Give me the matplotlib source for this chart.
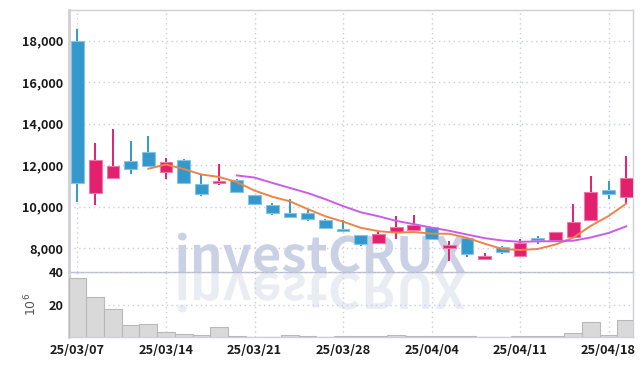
import numpy as np
import matplotlib
matplotlib.use("Agg")
import matplotlib.pyplot as plt
from matplotlib.textpath import TextPath
from matplotlib.patches import PathPatch
from matplotlib.font_manager import FontProperties
from matplotlib.transforms import Affine2D

# -----------------------------
# Data (price in KRW, volume in millions)
# -----------------------------
opens = [18000, 10640, 11390, 12190, 12630, 11680, 12240, 11090, 11120, 11280,
         10560, 10070, 9700, 9670, 9350, 8920, 8640, 8230, 8790, 8880,
         9030, 8020, 8470, 7460, 8030, 7610, 8480, 8390, 8550, 9350,
         10800, 10440]
highs = [18560, 13050, 13720, 13170, 13400, 12350, 12290, 11570, 12030, 11310,
         10560, 10180, 10380, 9830, 9380, 9350, 8640, 8820, 9560, 9590,
         9030, 8320, 8470, 7740, 8080, 8430, 8580, 8790, 10110, 11470,
         11240, 12430]
lows = [10230, 10060, 11340, 11570, 11970, 11310, 11150, 10520, 11040, 10670,
        10110, 9590, 9510, 9300, 8900, 8830, 8100, 8230, 8430, 8880,
        8390, 7370, 7580, 7460, 7710, 7610, 8180, 8340, 8550, 9350,
        10380, 10160]
closes = [11120, 12240, 11950, 11820, 11970, 12150, 11150, 10620, 11240, 10720,
          10110, 9670, 9510, 9380, 8980, 8830, 8180, 8690, 9030, 9120,
          8450, 8150, 7700, 7630, 7820, 8230, 8390, 8770, 9270, 10700,
          10590, 11360]

# moving averages (start at candle 4 and candle 9)
ma5 = [11820, 12026, 11808, 11542, 11426, 11176, 10768, 10472, 10250, 9878,
       9530, 9274, 8976, 8812, 8742, 8770, 8694, 8688, 8490, 8210,
       7950, 7906, 7954, 8168, 8496, 9072, 9544, 10138]
ma10 = [11498, 11397, 11140, 10896, 10652, 10353, 10021, 9724, 9531, 9310,
        9150, 8984, 8832, 8651, 8476, 8360, 8300, 8321, 8329, 8353,
        8511, 8725, 9046]

volume = [36.1, 24.5, 17.1, 7.3, 8.1, 3.2, 2.0, 1.2, 6.1, 0.4,
          0.3, 0.3, 1.0, 0.4, 0.3, 0.4, 0.5, 0.4, 1.2, 0.5,
          0.5, 0.7, 0.6, 0.3, 0.3, 0.5, 0.4, 0.7, 2.4, 9.2,
          1.2, 10.4]

date_labels = ["25/03/07", "25/03/14", "25/03/21", "25/03/28",
               "25/04/04", "25/04/11", "25/04/18"]
price_ticks = [8000, 10000, 12000, 14000, 16000, 18000]
volume_ticks = [20, 40]

UP = "#e3206e"
UP_EDGE = "#f07aa6"
DOWN = "#3399cc"
DOWN_EDGE = "#88c4e2"
GRID = "#c9cde0"
MARK = "#c8cfe4"

plt.rcParams["font.family"] = ["Noto Sans CJK JP", "DejaVu Sans"]

W, H = 643, 366
fig = plt.figure(figsize=(W / 100, H / 100), dpi=100)
ax = fig.add_axes([69 / W, 1 - 272 / H, 564 / W, 262 / H])
axv = fig.add_axes([69 / W, 1 - 337 / H, 564 / W, 65 / H], sharex=ax)
for a in (ax, axv):
    a.set_facecolor("none")


def add_watermark(text, x0, base, width, height, flip, alpha):
    tp = TextPath((0, 0), text, size=1,
                  prop=FontProperties(family="Noto Sans CJK JP", weight="bold"))
    ext = tp.get_extents()
    sx = width / ext.width
    sy = height / ext.height
    if flip:
        sy = -sy
    tr = (Affine2D().translate(-ext.x0, 0).scale(sx, sy)
          .translate(x0, H - base).scale(1 / W, 1 / H) + fig.transFigure)
    patch = PathPatch(tp, transform=tr, facecolor=MARK,
                      edgecolor="none", alpha=alpha, zorder=-5)
    fig.add_artist(patch)


add_watermark("investCRUX", 178, 272, 287, 40, False, 0.95)
add_watermark("investCRUX", 178, 273, 287, 40, True, 0.38)

# -----------------------------
# Candles
# -----------------------------
idx = np.arange(len(closes))
o = np.array(opens)
c = np.array(closes)
up = c >= o
colors = np.where(up, UP, DOWN)
edges = np.where(up, UP_EDGE, DOWN_EDGE)

ax.vlines(idx, lows, highs, colors=colors, linewidth=1.4, zorder=3)
ax.bar(idx, np.abs(c - o), bottom=np.minimum(o, c), width=0.72,
       color=colors, edgecolor=edges, linewidth=0.8, zorder=4)

ax.plot(idx[4:], ma5, color="#ee8447", linewidth=1.4, zorder=5)
ax.plot(idx[9:], ma10, color="#cc5ce8", linewidth=1.4, zorder=5)

ax.set_xlim(-0.48, 31.38)
ax.set_ylim(6845, 19470)
ax.set_yticks(price_ticks)
ax.set_yticklabels([f"{v:,}" for v in price_ticks])

# -----------------------------
# Volume
# -----------------------------
axv.bar(idx, volume, width=1.0, color="#d9d9d9",
        edgecolor="#b8b8b8", linewidth=0.8, zorder=3)
axv.set_ylim(0, 40)
axv.set_yticks(volume_ticks)
axv.set_xticks(range(0, 31, 5))
axv.set_xticklabels(date_labels)
axv.set_ylabel(r"$10^6$", fontsize=9, color="#555555", labelpad=7,
               family="DejaVu Sans")
plt.setp(ax.get_xticklabels(), visible=False)

for a in (ax, axv):
    a.grid(True, color=GRID, linestyle=(0, (1, 2.5)), linewidth=1.0, zorder=0)
    a.set_axisbelow(True)
    a.tick_params(length=0, labelsize=9.2, labelcolor="#1a1a1a", pad=4)
    for lab in a.get_xticklabels() + a.get_yticklabels():
        lab.set_fontweight("bold")
    for side, sp in a.spines.items():
        sp.set_color("#cfcfd8")
        sp.set_linewidth(1.0)

ax.spines["bottom"].set_color("#b9bccb")
axv.spines["top"].set_visible(False)
ax.spines["left"].set_linewidth(2)
axv.spines["left"].set_linewidth(2)
axv.tick_params(axis="x", pad=5)

fig.savefig("out.png", dpi=100)
